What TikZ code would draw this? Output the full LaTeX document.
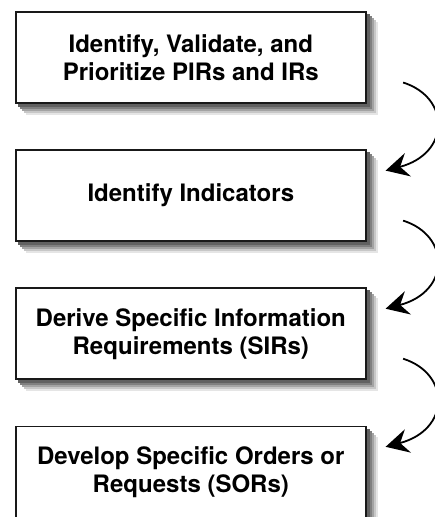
\documentclass[tikz,border=0pt]{standalone}
\usepackage{fontspec}
\setmainfont{TeX Gyre Heros}
\usetikzlibrary{positioning,arrows.meta}
\tikzset{
	stepbox/.style={draw=black!90, line width=1.6pt, fill=white, minimum width=350pt, minimum height=91pt,
		align=center, font=\bfseries\fontsize{24}{28}\selectfont},
	shade strip/.style={fill=black!#1, draw=none},
	flow/.style={line width=1.8pt, -{Stealth[length=23pt, width=24pt, inset=8pt]}}
}
\begin{document}
\begin{tikzpicture}[x=1pt, y=-1pt]
			\useasboundingbox (0,0) rectangle (435,517);
			%steps
			\node[stepbox] (pir) at (190.8, 57.5) {Identify, Validate, and\\Prioritize PIRs and IRs};
			\node[stepbox, below=45.5pt of pir] (ind) {Identify Indicators};
			\node[stepbox, below=45.5pt of ind] (sir) {Derive Specific Information\\Requirements (SIRs)};
			\node[stepbox, below=45.5pt of sir] (sor) {Develop Specific Orders or\\Requests (SORs)};
			
			%shadow strips, right and bottom
			\foreach \nd in {pir, ind, sir, sor}{
				\foreach \off/\gr in {11/10, 9/22, 7/36, 5/50, 3/62}{
					\path[shade strip=\gr] ([xshift=0pt, yshift=-\off pt]\nd.north east) rectangle ([xshift=\off pt, yshift=-\off pt]\nd.south east);
					\path[shade strip=\gr] ([xshift=\off pt, yshift=0pt]\nd.south west) rectangle ([xshift=\off pt, yshift=-\off pt]\nd.south east);
				}
			}
			
			%curved arrows
			\foreach \a/\b in {pir/ind, ind/sir, sir/sor}{
				\draw[flow] ([shift={(36.5,25)}]\a.east) .. controls ([shift={(84,40)}]\a.east)
					and ([shift={(84,-42)}]\b.east) .. ([shift={(19,-25)}]\b.east);
			}
		\end{tikzpicture}
\end{document}
